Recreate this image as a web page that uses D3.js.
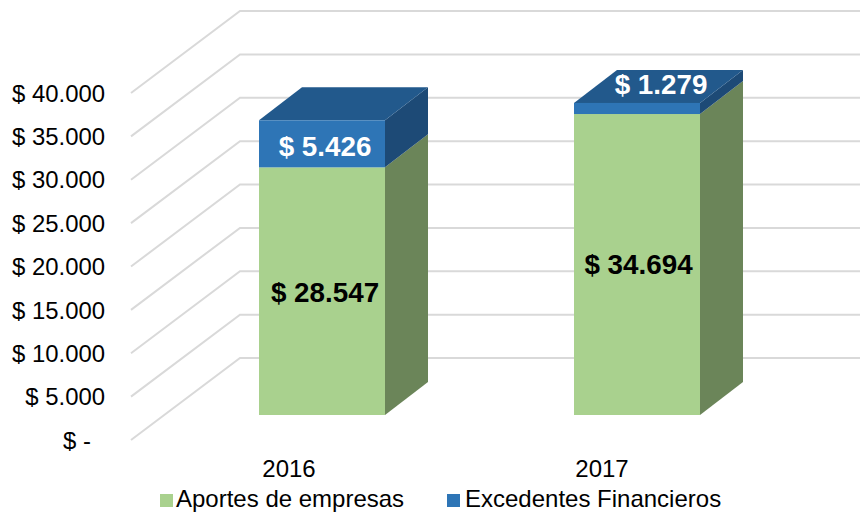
<!DOCTYPE html>
<html><head><meta charset="utf-8">
<script src="https://cdn.jsdelivr.net/npm/d3@7"></script>
<style>html,body{margin:0;padding:0;background:#fff}svg{display:block}text{font-family:"Liberation Sans",Arial,sans-serif}</style>
</head><body><svg id="c" width="860" height="512"></svg>
<script>
const categories = ["2016","2017"];
const aportes = [28547,34694];
const excedentes = [5426,1279];
const aportesLabels = ["$ 28.547","$ 34.694"];
const excedentesLabels = ["$ 5.426","$ 1.279"];
const tickValues = [0,5000,10000,15000,20000,25000,30000,35000,40000];
const tickLabels = ["$ -","$ 5.000","$ 10.000","$ 15.000","$ 20.000","$ 25.000","$ 30.000","$ 35.000","$ 40.000"];
const seriesNames = ["Aportes de empresas","Excedentes Financieros"];

const svg = d3.select("#c");
const wallX = 131, backX = 240, wallDY = 82, gridRight = 860;
const y = d3.scaleLinear().domain([0,40000]).range([440,93]);
const barBaseShift = -25;
const barDX = 43, barDY = 33;
const x = d3.scalePoint().domain(categories).range([322,637]);
const barW = 126;
const by = v => y(v)+barBaseShift;

const grid = svg.append("g").attr("fill","none").attr("stroke","#d9d9d9").attr("stroke-width",2);
tickValues.forEach(v=>{
  grid.append("path").attr("d",d3.line()([[wallX,y(v)],[backX,y(v)-wallDY],[gridRight,y(v)-wallDY]]));
});

const yAxis = d3.axisLeft(y).tickValues(tickValues).tickSize(0).tickPadding(0)
  .tickFormat((d,i)=>tickLabels[i]);
const ya = svg.append("g").attr("transform","translate(105,0)").call(yAxis);
ya.select(".domain").remove();
ya.selectAll("text").attr("font-size",23.9).attr("fill","#000").attr("dy","0.34em")
  .attr("text-anchor","end")
  .attr("x",d=>d===0?-14:0)
  .style("font-family",'"Liberation Sans",Arial,sans-serif');

function poly(pts,fill){
  svg.append("path").attr("d",d3.line()(pts)+"Z").attr("fill",fill);
}
const cGreen="#a9d18e", cBlue="#2e75b6", cTop="#22598c", cSideBlue="#1d4a76", cSideGreen="#6b8559";
categories.forEach((c,i)=>{
  const x0=x(c)-barW/2, x1=x0+barW;
  const y0=by(0), y1=by(aportes[i]), y2=by(aportes[i]+excedentes[i]);
  poly([[x1,y0],[x1+barDX,y0-barDY],[x1+barDX,y1-barDY],[x1,y1]],cSideGreen);
  poly([[x1,y1],[x1+barDX,y1-barDY],[x1+barDX,y2-barDY],[x1,y2]],cSideBlue);
  poly([[x0,y2],[x0+barDX,y2-barDY],[x1+barDX,y2-barDY],[x1,y2]],cTop);
  svg.append("rect").attr("x",x0).attr("y",y1).attr("width",barW).attr("height",y0-y1).attr("fill",cGreen);
  svg.append("rect").attr("x",x0).attr("y",y2).attr("width",barW).attr("height",y1-y2).attr("fill",cBlue);
  const lab=(t,lx,ly,col)=>svg.append("text").text(t).attr("x",lx).attr("y",ly).attr("dy","0.35em")
    .attr("text-anchor","middle").attr("font-size",27.8).attr("font-weight","bold").attr("fill",col);
  lab(aportesLabels[i],x(c)+3*(i?0.5:1),(y0+y1)/2+(i?0:1),"#000");
  if(i===0) lab(excedentesLabels[i],x(c)+3,(y1+y2)/2+2,"#fff");
  else lab(excedentesLabels[i],x(c)+24,y2-barDY/2-2,"#fff");
  svg.append("text").text(c).attr("x",x(c)-(i?35:33)).attr("y",469).attr("dy","0.35em")
    .attr("text-anchor","middle").attr("font-size",24).attr("fill","#000");
});

const legend=[[160,cGreen,176],[447,cBlue,465]];
seriesNames.forEach((n,i)=>{
  svg.append("rect").attr("x",legend[i][0]).attr("y",494).attr("width",13).attr("height",13).attr("fill",legend[i][1]);
  svg.append("text").text(n).attr("x",legend[i][2]).attr("y",507).attr("font-size",24).attr("fill","#000");
});
</script></body></html>
